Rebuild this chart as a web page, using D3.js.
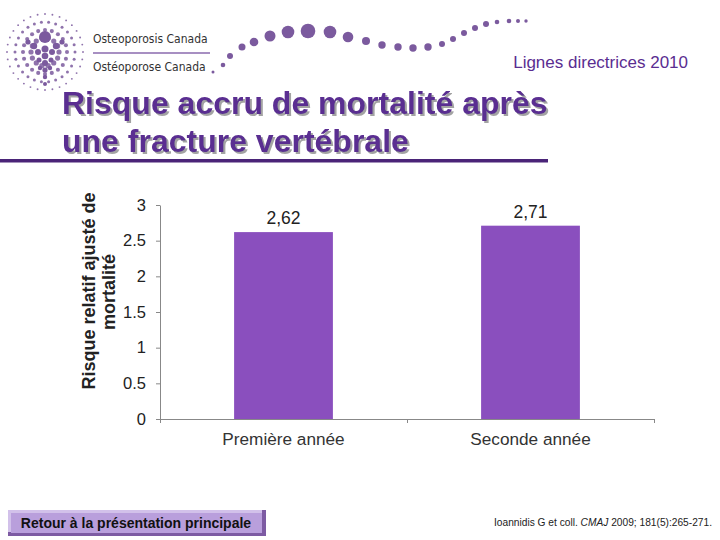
<!DOCTYPE html>
<html><head><meta charset="utf-8">
<script src="https://cdn.jsdelivr.net/npm/d3@7"></script>
<style>body{margin:0;background:#fff}svg{display:block}</style>
</head><body>
<svg id="c" width="720" height="540"></svg>
<script>
const categories = ["Première année", "Seconde année"];
const values = [2.62, 2.71];
const valueLabels = ["2,62", "2,71"];
const yTicks = [0, 0.5, 1, 1.5, 2, 2.5, 3];
const yTickLabels = ["0", "0.5", "1", "1.5", "2", "2.5", "3"];

const svg = d3.select("#c");
const purple = "#5a2d91";
const dot = "#7b5a9e";

const defs = svg.append("defs");
const f = defs.append("filter").attr("id", "sh").attr("x", "-5%").attr("y", "-20%").attr("width", "115%").attr("height", "150%");
f.append("feDropShadow").attr("dx", 2).attr("dy", 2).attr("stdDeviation", 0.6).attr("flood-color", "#999").attr("flood-opacity", 0.9);

// ---- Logo (decorative) ----
const logo = svg.append("g");
const cx = 45, cy = 52;
for (let ring = 0; ring < 4; ring++) {
  const r = 14 + ring * 8;
  const n = 14 + ring * 6;
  for (let i = 0; i < n; i++) {
    const a = (i / n) * 2 * Math.PI;
    logo.append("circle").attr("cx", cx + r * Math.cos(a)).attr("cy", cy + r * Math.sin(a))
      .attr("r", Math.max(0.8, 2.6 - ring * 0.55)).attr("fill", dot).attr("opacity", 0.85);
  }
}
logo.append("circle").attr("cx", 45).attr("cy", 37).attr("r", 6).attr("fill", dot);
[[45,49,3.5],[45,56,3.3],[45,63,3],[45,70,2.6],[45,77,2.2],[45,84,2],
 [34,46,3.2],[56,46,3.2],[28,42,2.6],[62,42,2.6],[38,52,3],[52,52,3],[39,60,2.5],[51,60,2.5],
 [40,68,2.2],[50,68,2.2]].forEach(d => logo.append("circle").attr("cx", d[0]).attr("cy", d[1]).attr("r", d[2]).attr("fill", dot));

svg.append("text").attr("x", 93).attr("y", 43).attr("font-family", "DejaVu Sans Condensed, Liberation Sans Narrow, sans-serif")
  .attr("font-size", 12).attr("fill", "#333").text("Osteoporosis Canada");
svg.append("line").attr("x1", 93).attr("x2", 210).attr("y1", 53).attr("y2", 53).attr("stroke", "#8a6aae").attr("stroke-width", 1.5);
svg.append("text").attr("x", 93).attr("y", 71).attr("font-family", "DejaVu Sans Condensed, Liberation Sans Narrow, sans-serif")
  .attr("font-size", 12).attr("fill", "#333").text("Ostéoporose Canada");

const wave = [[213,72,1.5],[223,65,2.3],[230,56,3],[242,47,3.5],[254,42,4.3],[270,36,5.5],[288,32,6.3],[308,31,7.3],
  [330,32,6.3],[348,37,5.3],[366,41,4],[382,45,3.7],[398,47,3.7],[413,48,3.7],[428,47,3.7],[442,44,3],
  [453,39,3],[464,33,3],[475,28,3],[486,24,3],[497,22,2.3],[509,21,2.3],[518,21,2],[526,21,1.7]];
wave.forEach(d => svg.append("circle").attr("cx", d[0]).attr("cy", d[1]).attr("r", d[2]).attr("fill", dot));

svg.append("text").attr("x", 688).attr("y", 68).attr("text-anchor", "end")
  .attr("font-family", "Liberation Sans, Arial, sans-serif").attr("font-size", 17).attr("fill", purple)
  .text("Lignes directrices 2010");

// ---- Title ----
const title = ["Risque accru de mortalité après", "une fracture vertébrale"];
title.forEach((t, i) => {
  svg.append("text").attr("x", 62).attr("y", 114 + i * 38).attr("font-family", "Liberation Sans, Arial, sans-serif")
    .attr("font-weight", "bold").attr("font-size", 32).attr("fill", purple).attr("filter", "url(#sh)").text(t);
});
svg.append("rect").attr("x", 0).attr("y", 159).attr("width", 548).attr("height", 3.5).attr("fill", "#4a2478");

// ---- Chart ----
const x0 = 160, x1 = 654, yTop = 205, yBot = 419;
const x = d3.scaleBand().domain(categories).range([x0, x1]).paddingInner(0.6).paddingOuter(0.3);
const y = d3.scaleLinear().domain([0, 3]).range([yBot, yTop]);

const g = svg.append("g");
g.selectAll("rect.bar").data(values).join("rect").attr("class", "bar")
  .attr("x", (d, i) => x(categories[i])).attr("width", x.bandwidth())
  .attr("y", d => y(d)).attr("height", d => y(0) - y(d)).attr("fill", "#8a4fbe");

g.selectAll("text.val").data(values).join("text").attr("class", "val")
  .attr("x", (d, i) => x(categories[i]) + x.bandwidth() / 2).attr("y", d => y(d) - 8)
  .attr("text-anchor", "middle").attr("font-family", "Liberation Sans, Arial, sans-serif")
  .attr("font-size", 17.5).attr("fill", "#222").text((d, i) => valueLabels[i]);

const yAxis = d3.axisLeft(y).tickValues(yTicks).tickFormat((d, i) => yTickLabels[i]).tickSize(4).tickSizeOuter(0);
const ya = svg.append("g").attr("transform", `translate(${x0},0)`).call(yAxis);
ya.select(".domain").attr("stroke", "#888");
ya.selectAll(".tick line").attr("stroke", "#888");
ya.selectAll(".tick text").attr("font-family", "Liberation Sans, Arial, sans-serif").attr("font-size", 16.5)
  .attr("fill", "#222").attr("x", -14);

const xAxis = d3.axisBottom(d3.scaleLinear().domain([0, 2]).range([x0, x1])).tickValues([0, 1, 2]).tickFormat("").tickSize(4).tickSizeOuter(0);
const xa = svg.append("g").attr("transform", `translate(0,${yBot})`).call(xAxis);
xa.select(".domain").attr("stroke", "#888");
xa.selectAll(".tick line").attr("stroke", "#888");

g.selectAll("text.cat").data(categories).join("text").attr("class", "cat")
  .attr("x", d => x(d) + x.bandwidth() / 2).attr("y", 445).attr("text-anchor", "middle")
  .attr("font-family", "Liberation Sans, Arial, sans-serif").attr("font-size", 17.2).attr("fill", "#333").text(d => d);

const yt = svg.append("g").attr("font-family", "Liberation Sans, Arial, sans-serif").attr("font-weight", "bold")
  .attr("font-size", 18).attr("fill", "#222").attr("text-anchor", "middle");
yt.append("text").attr("transform", "translate(95,291) rotate(-90)").text("Risque relatif ajusté de");
yt.append("text").attr("transform", "translate(115,292) rotate(-90)").text("mortalité");

// ---- Footer ----
const b = svg.append("g");
b.append("rect").attr("x", 8).attr("y", 510).attr("width", 258).attr("height", 26).attr("fill", "#7d5ba3");
b.append("rect").attr("x", 8).attr("y", 510).attr("width", 254).attr("height", 22).attr("fill", "#d2c1ea");
b.append("rect").attr("x", 11).attr("y", 513).attr("width", 251).attr("height", 20).attr("fill", "#b99fdc");
b.append("text").attr("x", 136).attr("y", 527.5).attr("text-anchor", "middle")
  .attr("font-family", "Liberation Sans, Arial, sans-serif").attr("font-weight", "bold").attr("font-size", 14)
  .attr("fill", "#111").text("Retour à la présentation principale");

const cit = svg.append("text").attr("x", 712).attr("y", 526).attr("text-anchor", "end")
  .attr("font-family", "Liberation Sans Narrow, Liberation Sans, Arial, sans-serif").attr("font-size", 10.2).attr("fill", "#222");
cit.append("tspan").text("Ioannidis G et coll. ");
cit.append("tspan").attr("font-style", "italic").text("CMAJ");
cit.append("tspan").text(" 2009; 181(5):265-271.");
</script>
</body></html>
